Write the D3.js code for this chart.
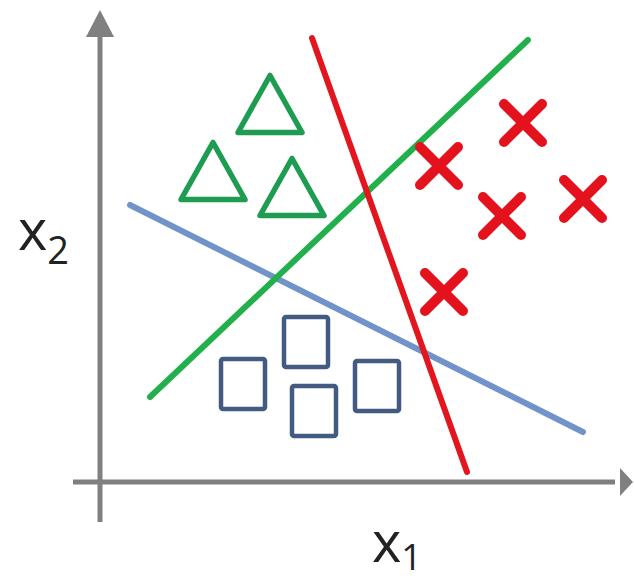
<!DOCTYPE html>
<html>
<head>
<meta charset="utf-8">
<script src="https://cdn.jsdelivr.net/npm/d3@7"></script>
<style>
  html, body { margin: 0; padding: 0; background: #fff; }
  svg { display: block; }
  .lbl { font-family: "Open Sans", "DejaVu Sans", sans-serif; fill: #222; }
</style>
</head>
<body>
<div id="root"></div>
<script>
// dados em unidades do plano (x1, x2)
const triangles = [[3.40, 7.56], [2.26, 6.22], [3.84, 5.90]];
const crosses   = [[6.78, 6.32], [8.46, 7.18], [8.04, 5.32], [9.66, 5.66], [6.88, 3.80]];
const squares   = [[2.86, 1.96], [4.12, 2.80], [4.28, 1.42], [5.54, 1.92]];
const redLine   = [[4.24, 8.88], [7.34, 0.20]];
const greenLine = [[1.00, 1.70], [8.56, 8.84]];
const blueLine  = [[0.60, 5.54], [9.66, 1.00]];

const W = 634, H = 585;
const svg = d3.select('#root').append('svg').attr('width', W).attr('height', H);

const x = d3.scaleLinear().domain([0, 10.6]).range([100, 630]);
const y = d3.scaleLinear().domain([0, 9.44]).range([482, 10]);

const grey = '#808080';

// eixos
svg.append('line')
  .attr('x1', x(0)).attr('y1', y(-0.8)).attr('x2', x(0)).attr('y2', y(9.1))
  .attr('stroke', grey).attr('stroke-width', 5);
svg.append('path')
  .attr('d', `M${x(0)},${y(9.44)} L${x(0) - 14},${y(8.9)} L${x(0) + 14},${y(8.9)} Z`)
  .attr('fill', grey);
svg.append('line')
  .attr('x1', x(-0.54)).attr('y1', y(0)).attr('x2', x(10.3)).attr('y2', y(0))
  .attr('stroke', grey).attr('stroke-width', 5);
svg.append('path')
  .attr('d', `M${x(10.66)},${y(0)} L${x(10.4)},${y(0) - 14} L${x(10.4)},${y(0) + 14} Z`)
  .attr('fill', grey);

// rótulos
const lx2 = svg.append('text').attr('class', 'lbl').attr('x', 18).attr('y', 250).attr('font-size', 56);
lx2.append('tspan').text('x');
lx2.append('tspan').attr('font-size', 38).attr('dy', 14).text('2');
const lx1 = svg.append('text').attr('class', 'lbl').attr('x', 372).attr('y', 562).attr('font-size', 56);
lx1.append('tspan').text('x');
lx1.append('tspan').attr('font-size', 36).attr('dy', 8).text('1');

// retas de separação
const line = d3.line().x(d => x(d[0])).y(d => y(d[1]));
[[blueLine, '#7193c9'], [greenLine, '#21b04b'], [redLine, '#e3161f']].forEach(([d, c]) => {
  svg.append('path').attr('d', line(d)).attr('stroke', c).attr('stroke-width', 6)
    .attr('fill', 'none').attr('stroke-linecap', 'round');
});

// triângulos
const tw = 64, th = 57;
svg.selectAll('.tri').data(triangles).join('path')
  .attr('class', 'tri')
  .attr('d', d => {
    const cx = x(d[0]), cy = y(d[1]);
    return `M${cx},${cy - th / 2} L${cx + tw / 2},${cy + th / 2} L${cx - tw / 2},${cy + th / 2} Z`;
  })
  .attr('fill', 'none').attr('stroke', '#1e9c52').attr('stroke-width', 5.5)
  .attr('stroke-linejoin', 'round');

// quadrados
const sw = 44, sh = 50;
svg.selectAll('.sq').data(squares).join('rect')
  .attr('class', 'sq')
  .attr('x', d => x(d[0]) - sw / 2).attr('y', d => y(d[1]) - sh / 2)
  .attr('width', sw).attr('height', sh).attr('rx', 2)
  .attr('fill', 'none').attr('stroke', '#435a82').attr('stroke-width', 4.5);

// cruzes
const r = 19;
svg.selectAll('.cr').data(crosses).join('path')
  .attr('class', 'cr')
  .attr('d', d => {
    const cx = x(d[0]), cy = y(d[1]);
    return `M${cx - r},${cy - r} L${cx + r},${cy + r} M${cx + r},${cy - r} L${cx - r},${cy + r}`;
  })
  .attr('stroke', '#e3121c').attr('stroke-width', 10).attr('stroke-linecap', 'round');
</script>
</body>
</html>
